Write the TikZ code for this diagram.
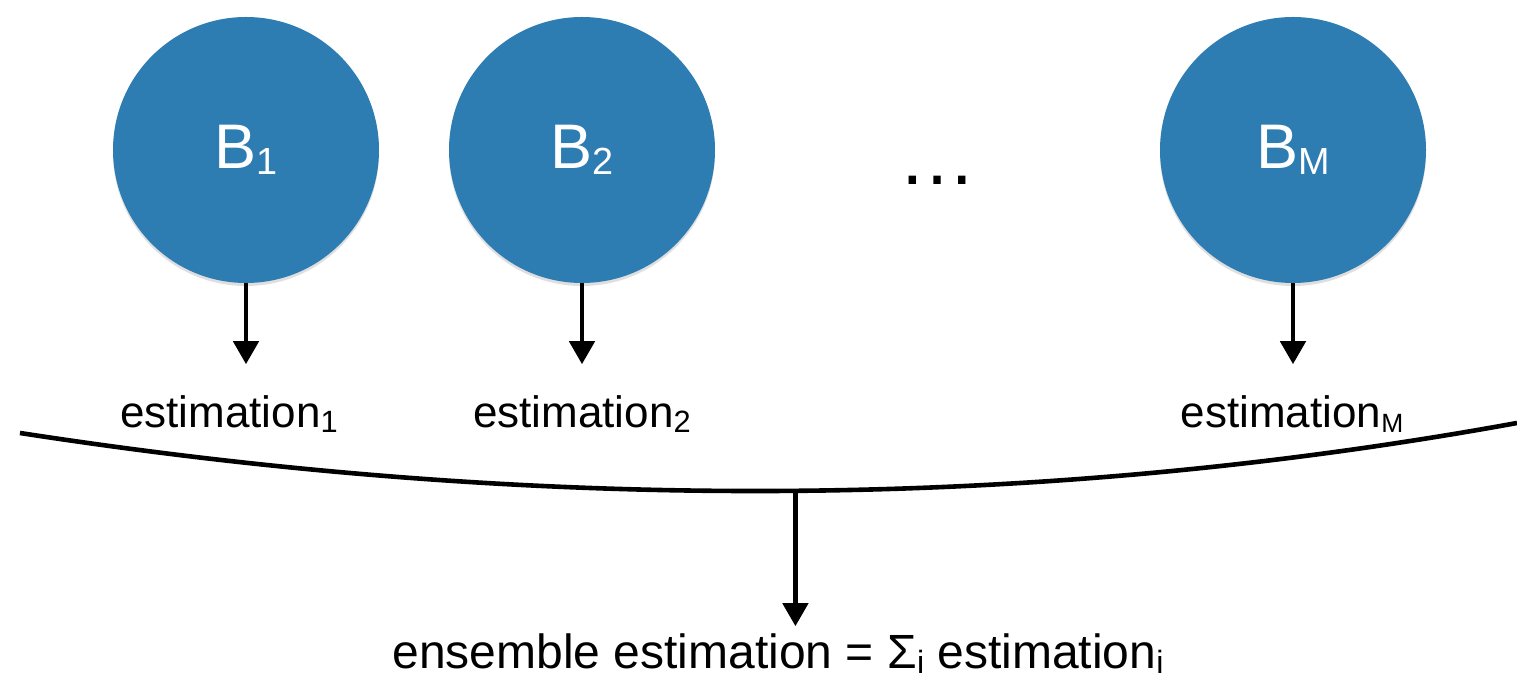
\documentclass[tikz,border=0pt]{standalone}
\usepackage{fontspec}
\setmainfont{Liberation Sans}
\definecolor{bagBlue}{RGB}{46,125,178}
\usetikzlibrary{arrows.meta,positioning,shadows}
\newcommand{\lowidx}[2][0.7]{\raisebox{-0.1em}{\scalebox{#1}{#2}}}

\begin{document}
\begin{tikzpicture}[x=0.5pt, y=-0.5pt,
  ball/.style={circle, fill=bagBlue, minimum size=133pt, inner sep=0pt,
               text=white, font=\fontsize{31.5}{36}\selectfont,
               drop shadow={shadow xshift=0pt, shadow yshift=-1.5pt, opacity=0.25}},
  lbl/.style={inner sep=0pt, font=\fontsize{22}{26}\selectfont},
  arr/.style={-{Triangle[width=12.5pt,length=11.5pt]}, line width=2.3pt}
]
  \useasboundingbox (0,0) rectangle (1517,683);

  \node[ball] (B1) at (246,150) {B\lowidx[0.6]{1}};
  \node[ball] (B2) at (582,150) {B\lowidx[0.6]{2}};
  \node[ball] (BM) at (1293,150) {B\lowidx[0.6]{M}};
  \node[anchor=base, inner sep=0pt, font=\fontsize{39}{44}\selectfont] (dots) at (937,185) {…};

  \node[lbl, anchor=base] (e1) at (229,428)  {estimation\lowidx{1}};
  \node[lbl, anchor=base] (e2) at (582,428)  {estimation\lowidx{2}};
  \node[lbl, anchor=base] (eM) at (1292,428) {estimation\lowidx[0.6]{M}};

  \draw[arr, shorten >=15.75pt] (B1) -- (B1 |- e1.north);
  \draw[arr, shorten >=15.75pt] (B2) -- (B2 |- e2.north);
  \draw[arr, shorten >=15.75pt] (BM) -- (BM |- eM.north);

  % combining curve
  \draw[line width=2.3pt] (20,433) coordinate (cl)
    .. controls (520,510) and (1017,514) .. coordinate[pos=0.518] (merge) (1517,423) coordinate (cr);

  \node[lbl, anchor=base, font=\fontsize{24}{28}\selectfont] (ens) at (778,669)
    {ensemble estimation = Σ\lowidx[0.67]{i} estimation\lowidx[0.67]{i}};
  \draw[arr, shorten >=3.8pt] (merge) -- (merge |- ens.north);
\end{tikzpicture}
\end{document}
